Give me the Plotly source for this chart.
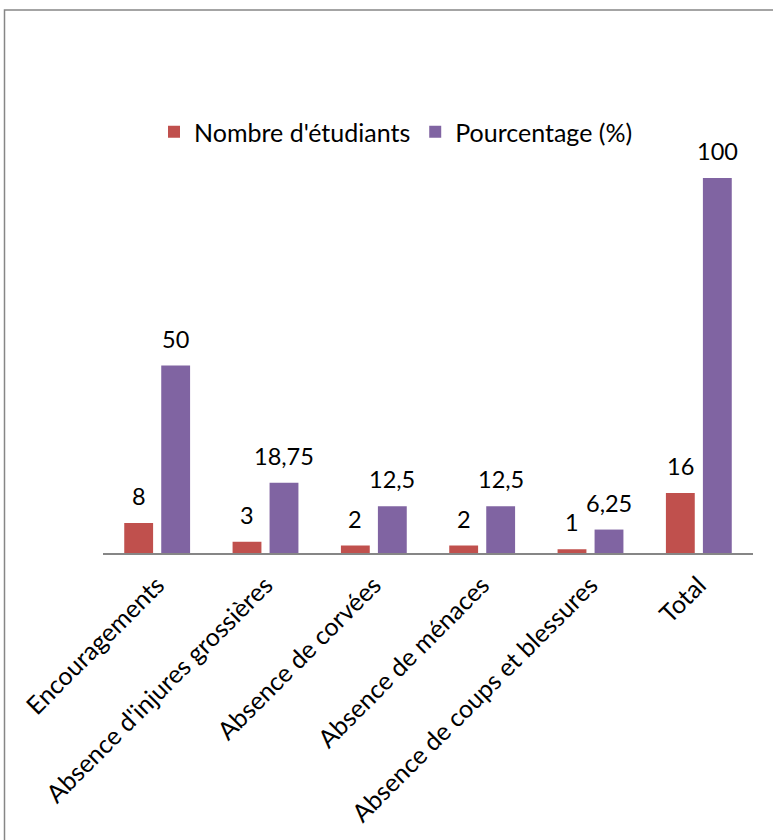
import plotly.graph_objects as go

categories = ["Encouragements", "Absence d'injures grossières", "Absence de corvées",
              "Absence de ménaces", "Absence de coups et blessures", "Total"]
nombre = [8, 3, 2, 2, 1, 16]
pourcentage = [50, 18.75, 12.5, 12.5, 6.25, 100]
nombre_labels = ["8", "3", "2", "2", "1", "16"]
pourcentage_labels = ["50", "18,75", "12,5", "12,5", "6,25", "100"]

W, H = 773, 840
L, R, T, B = 103, 20, 103, 287
pw, ph = W - L - R, H - T - B

fnt = dict(family="Lato, Open Sans, sans-serif", size=25, color="#000000")
lblfnt = dict(family="Lato, Open Sans, sans-serif", size=23.5, color="#000000")

fig = go.Figure()
fig.add_trace(go.Bar(x=categories, y=nombre, name="Nombre d'étudiants",
                     marker=dict(color="#C0504D", line=dict(width=0))))
fig.add_trace(go.Bar(x=categories, y=pourcentage, name="Pourcentage (%)",
                     marker=dict(color="#8064A2", line=dict(width=0))))

for cat, v, t in zip(categories, nombre, nombre_labels):
    fig.add_annotation(x=cat, y=v, text=t, showarrow=False, xshift=-18.5, yshift=11,
                       yanchor="bottom", font=lblfnt)
for cat, v, t in zip(categories, pourcentage, pourcentage_labels):
    fig.add_annotation(x=cat, y=v, text=t, showarrow=False, xshift=18.5, yshift=11,
                       yanchor="bottom", font=lblfnt)

def px_x(p):
    return (p - L) / pw

def px_y(p):
    return (H - B - p) / ph

fig.add_shape(type="rect", xref="paper", yref="paper",
              x0=px_x(4.5), x1=px_x(900), y0=px_y(10), y1=px_y(1000),
              line=dict(color="#868686", width=1.5), fillcolor="rgba(0,0,0,0)")

fig.update_layout(
    width=W, height=H,
    margin=dict(l=L, r=R, t=T, b=B, autoexpand=False),
    paper_bgcolor="white", plot_bgcolor="white",
    barmode="group", bargap=0.317, bargroupgap=0.22,
    font=fnt,
    showlegend=True,
    legend=dict(orientation="h", x=px_x(396), xanchor="center", y=px_y(132), yanchor="middle",
                font=fnt, itemwidth=30, traceorder="normal"),
    xaxis=dict(tickangle=-45, showline=True, linecolor="#868686", linewidth=1.5,
               ticks="", tickfont=fnt, showgrid=False, fixedrange=True,
               ticklabelstandoff=6),
    yaxis=dict(range=[0, 120], visible=False, showgrid=False, fixedrange=True),
)

fig.write_html("out.html", config={"displayModeBar": False},
               post_script="document.body.style.margin='0px';document.body.style.overflow='hidden';")
